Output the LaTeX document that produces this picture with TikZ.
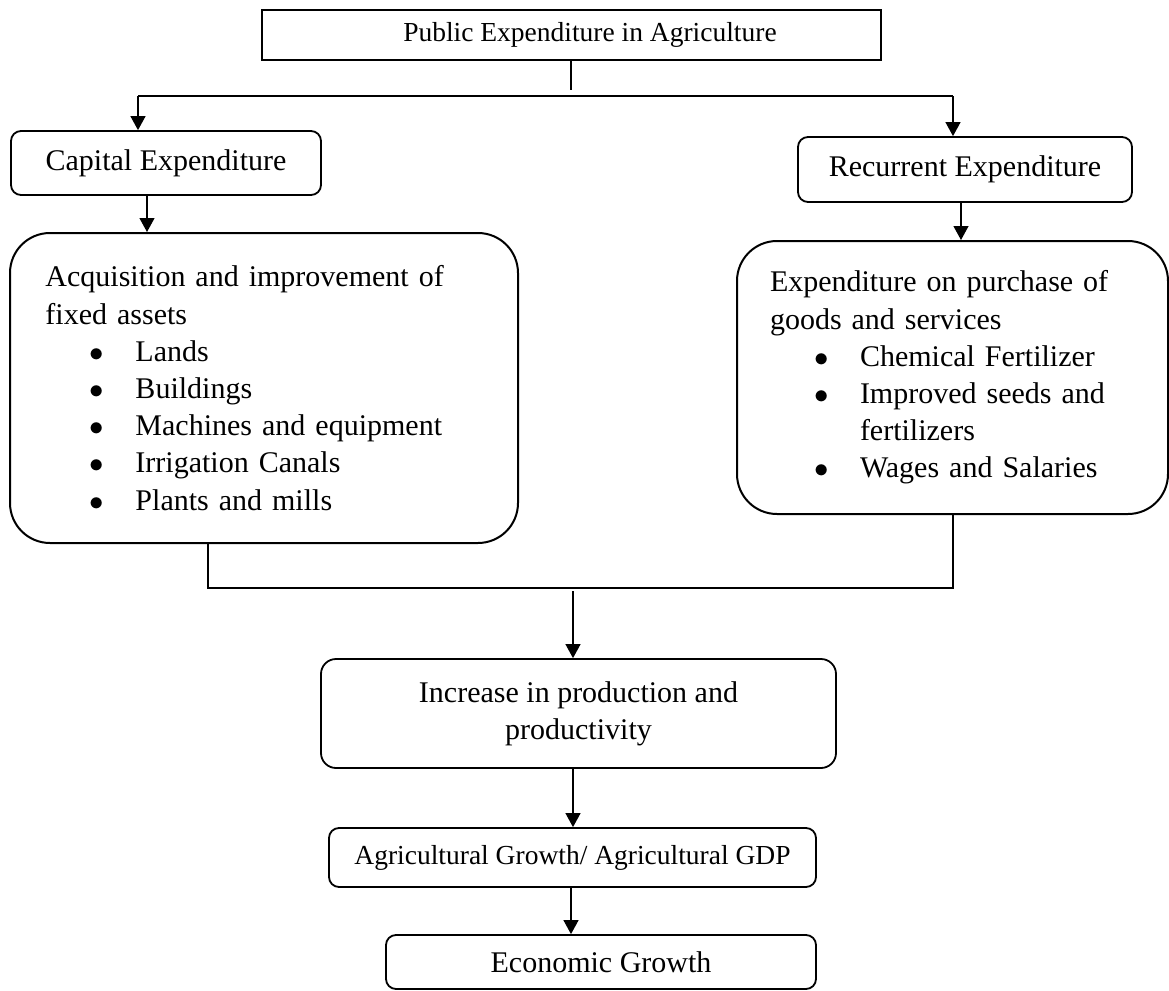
\documentclass[tikz,border=0pt]{standalone}
\usepackage{fontspec}
\setmainfont{Liberation Serif}
\usepackage{tikz}
\usetikzlibrary{arrows.meta,positioning}
\newcommand{\bitem}[1]{\hspace*{22pt}\makebox[23pt][l]{$\bullet$}#1}
\tikzset{
    %Define standard arrow tip
    >={Triangle[length=7pt,width=7.5pt]},
    %Define style for boxes
    headbox/.style={
           rectangle,
           draw=black, line width=1.1pt,
           minimum width=309.5pt,
           minimum height=25pt,
           inner sep=0pt,
           font=\fontsize{13.75}{16}\selectfont,
           text centered,
           },
    expbox/.style={
           rectangle,
           rounded corners=5pt,
           draw=black, line width=0.9pt,
           minimum height=32pt,
           inner sep=0pt,
           font=\fontsize{15}{18.6}\selectfont,
           text centered,
           },
    listbox/.style={
           rectangle,
           rounded corners=20pt,
           draw=black, line width=1pt,
           inner sep=0pt,
           font=\fontsize{15}{18.6}\selectfont,
           align=left,
           },
    resultbox/.style={
           rectangle,
           rounded corners=5pt,
           draw=black, line width=0.9pt,
           inner sep=0pt,
           font=\fontsize{15}{18.6}\selectfont,
           align=center,
           },
    % Define arrow style
    arw/.style={
           ->,
           line width=0.6pt,},
    link/.style={line width=0.6pt},
    bus/.style={line width=1.4pt}
}

\begin{document}
\begin{tikzpicture}[x=0.5pt,y=-0.5pt]
\useasboundingbox (0,0) rectangle (1169,991);

 %nodes
\node[headbox] (pub) at (571.5,35) {\hspace*{18.5pt}Public Expenditure in Agriculture};
\node[expbox, minimum width=155pt] (cap) at (166,163) {Capital Expenditure};
\node[expbox, minimum width=167pt, minimum height=32.5pt] (rec) at (965,169.5) {Recurrent Expenditure};
\node[listbox, minimum width=254pt, minimum height=155pt, text width=218.5pt] (acq) at (264,388) {%
  \makebox[218.5pt][s]{Acquisition and improvement of}\\
  fixed assets\\
  \bitem{Lands}\\
  \bitem{Buildings}\\
  \bitem{Machines and equipment}\\
  \bitem{Irrigation Canals}\\
  \bitem{Plants and mills}};
\node[listbox, minimum width=215.5pt, minimum height=136.5pt, text width=182.5pt] (pur) at (952.5,377.5) {%
  Expenditure on purchase of\\
  goods and services\\
  \bitem{Chemical Fertilizer}\\
  \bitem{Improved seeds and}\\
  \hspace*{45pt}fertilizers\\
  \bitem{Wages and Salaries}};
\node[resultbox, rounded corners=7.5pt, minimum width=257.5pt, minimum height=54.5pt] (inc) at (578.5,713.5) {Increase in production and\\productivity};
\node[resultbox, minimum width=243.5pt, minimum height=29.5pt, font=\fontsize{13.75}{16}\selectfont] (agr) at (572.5,857.5) {Agricultural Growth/ Agricultural GDP};
\node[resultbox, minimum width=215pt, minimum height=27pt] (eco) at (601,962) {Economic Growth};

 %points
\coordinate (gap) at (571,90);
\coordinate (hl) at (138,96);
\coordinate (hr) at (953,96);
\coordinate (xa) at (147,0);
\coordinate (xb) at (961,0);
\coordinate (xc) at (208,0);
\coordinate (xd) at (953,0);
\coordinate (jn) at (0,588);
\coordinate (xe) at (573,591);
\coordinate (xf) at (571,0);

 %connectors
\draw[link] (pub.south -| gap) -- (gap);
\draw[bus] (hl) -- (hr);
\draw[arw] (hl) -- (hl |- cap.north);
\draw[arw] (hr) -- (hr |- rec.north);
\draw[arw] (xa |- cap.south) -- (xa |- acq.north);
\draw[arw] (xb |- rec.south) -- (xb |- pur.north);
\draw[link] (xc |- acq.south) -- (xc |- jn) -- (xd |- jn) -- (xd |- pur.south);
\draw[arw] (xe) -- (xe |- inc.north);
\draw[arw] (inc.south -| xe) -- (agr.north -| xe);
\draw[arw] (agr.south -| xf) -- (eco.north -| xf);

\end{tikzpicture}
\end{document}
